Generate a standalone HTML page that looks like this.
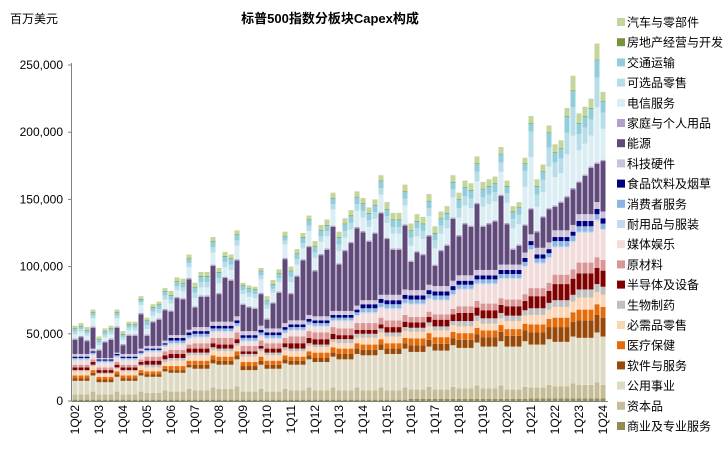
<!DOCTYPE html>
<html><head><meta charset="utf-8">
<style>
html,body{margin:0;padding:0;background:#fff;}
body{width:726px;height:458px;overflow:hidden;font-family:"Liberation Sans","Noto Sans CJK SC",sans-serif;}
svg text{font-family:"Liberation Sans","Noto Sans CJK SC",sans-serif;}
</style></head>
<body>
<svg id="chart" width="726" height="458" viewBox="0 0 726 458" xmlns="http://www.w3.org/2000/svg">
<text x="10" y="23" font-size="12" fill="#000">百万美元</text>
<text x="330" y="23" font-size="13" font-weight="bold" text-anchor="middle" fill="#000">标普500指数分板块Capex构成</text>
<g id="bars"></g>
<g id="axes"></g>
<g id="legend"></g>
</svg>
<script>
const quarterLabels = ["1Q02","1Q03","1Q04","1Q05","1Q06","1Q07","1Q08","1Q09","1Q10","1Q11","1Q12","1Q13","1Q14","1Q15","1Q16","1Q17","1Q18","1Q19","1Q20","1Q21","1Q22","1Q23","1Q24"];
const yTicks = [0,50000,100000,150000,200000,250000];
const yTickLabels = ["0","50,000","100,000","150,000","200,000","250,000"];
const seriesNames = ["商业及专业服务","资本品","公用事业","软件与服务","医疗保健","必需品零售","生物制药","半导体及设备","原材料","媒体娱乐","耐用品与服装","消费者服务","食品饮料及烟草","科技硬件","能源","家庭与个人用品","电信服务","可选品零售","交通运输","房地产经营与开发","汽车与零部件"];
const seriesColors = ["#948A54","#C4BD97","#DDD9C3","#984807","#E46C0A","#FCD5B5","#BFBFBF","#800000","#D99694","#F2DCDB","#C6D9F1","#8DB4E2","#000080","#CCC1DA","#604A7B","#B3A2C7","#DBEEF4","#B7DEE8","#92CDDC","#77933C","#C3D69B"];
// values in thousand million USD (k = 1000 百万美元), quarterly 1Q02..1Q24
const com = [1,1,1,1,1,1,1,1,1,1,1,1,1,1,1,1,1,1,1,1,1,1,1,1,1,1,1,1,1,1,1,1,1,1,1,1,1,1,1,1,1,1,1,1,1,1,1,1,1,1,1,1,1,1,1,1,1.5,1.5,1.5,1.5,1.5,1.5,1.5,1.5,1.5,1.5,1.5,1.5,1.5,1.5,1.5,1.5,1.5,1.5,1.5,1.5,2,2,2,2,2,2,2,2,2,2,2,2,2];
const cap = [4,4,4,6,4,4,4,6,4,4,4,6,5,5,5,7,6,6,6,8,7,7,7,9,8,8,8,10,6,6,6,8,6,6,6,8,7,7,7,9,7,7,7,9,7,7,7,9,7,7,7,9,7,7,7,9,7,7,7,9,7,7,7,9,8,8,8,10,8,8,8,10,7,7,7,9,8,8,8,10,9,9,9,11,10,10,10,12,10];
const util = [10,10,10,12,9,9,9,11,10,10,10,12,12,12,12,14,14,14,14,16,16,16,16,18,18,18,18,20,16,16,16,18,17,17,17,19,19,19,19,21,21,21,21,23,23,23,23,25,26,26,26,28,27,27,27,29,28,28,28,30,29,29,29,31,30,30,30,32,31,31,31,33,32,32,32,34,32,32,32,34,33,33,33,35,35,35,35,37,36];
const sw = [2,2,2,2,2,2,2,2,2,2,2,2,2,2,2,2,2,2,2,2,3,3,3,3,3,3,3,3,3,3,3,3,3,3,3,3,3,3,3,3,3,3,3,3,4,4,4,4,4,4,4,4,4,4,4,4,5,5,5,5,5,5,5,5,6,6,6,6,7,7,7,7,8,8,8,8,9,9,9,9,11,11,11,11,13,13,13,13,14];
const hc = [2,2,2,2,2,2,2,2,2,2,2,2,2,2,2,2,3,3,3,3,3,3,3,3,3,3,3,3,3,3,3,3,3,3,3,3,3,3,3,3,4,4,4,4,4,4,4,4,4,4,4,4,4,4,4,4,5,5,5,5,5,5,5,5,5,5,5,5,5,5,5,5,5,5,5,5,6,6,6,6,7,7,7,7,8,8,8,8,8];
const stap = [3,3,3,3,2,2,2,2,3,3,3,3,3,3,3,3,4,4,4,4,4,4,4,4,4,4,4,4,4,4,4,4,4,4,4,4,4,4,4,4,4,4,4,4,4,4,4,4,5,5,5,5,5,5,5,5,5,5,5,5,5,5,5,5,5,5,5,5,5,5,5,5,6,6,6,6,7,7,7,7,8,8,8,8,9,9,9,9,9];
const bio = [1,1,1,1,1,1,1,1,1,1,1,1,2,2,2,2,2,2,2,2,2,2,2,2,2,2,2,2,2,2,2,2,2,2,2,2,2,2,2,2,2,2,2,2,3,3,3,3,3,3,3,3,3,3,3,3,3,3,3,3,3,3,3,3,4,4,4,4,4,4,4,4,4,4,4,4,5,5,5,5,5,5,5,5,6,6,6,6,6];
const semi = [2,2,2,2,2,2,2,2,2,2,2,2,3,3,3,3,3,3,3,3,3,3,3,3,3,3,3,3,2,2,2,2,3,3,3,3,4,4,4,4,4,4,4,4,3,3,3,3,3,3,3,3,4,4,4,4,4,4,4,4,5,5,5,5,6,6,6,6,6,6,6,6,7,7,7,7,9,9,9,9,12,12,12,12,12,12,12,12,12];
const mat = [2,2,2,2,2,2,2,2,2,2,2,2,3,3,3,3,3,3,3,3,4,4,4,4,5,5,5,5,4,4,4,4,4,4,4,4,5,5,5,5,5,5,5,5,5,5,5,5,5,5,5,5,5,5,5,5,4,4,4,4,4,4,4,4,5,5,5,5,5,5,5,5,5,5,5,5,6,6,6,6,7,7,7,7,8,8,8,8,8];
const media = [3,3,3,3,3,3,3,3,3,3,3,3,3,3,3,3,4,4,4,4,4,4,4,4,4,4,4,4,3,3,3,3,3,3,3,3,4,4,4,4,4,4,4,4,5,5,5,5,7,7,7,7,8,8,8,8,9,9,9,9,10,10,10,10,12,12,12,12,14,14,14,14,15,15,15,20,28,18,18,18,20,20,20,20,22,22,22,27,22];
const dur = [1,1,1,1,1,1,1,1,1,1,1,1,1,1,1,1,1,1,1,1,1,1,1,1,1,1,1,1,1,1,1,1,1,1,1,1,1,1,1,1,1,1,1,1,1,1,1,1,1,1,1,1,1,1,1,1,1,1,1,1,1,1,1,1,1,1,1,1,1,1,1,1,1,1,1,1,1,1,1,1,1,1,1,1,1,1,1,1,1];
const csvc = [1,1,1,1,1,1,1,1,1,1,1,1,1,1,1,1,2,2,2,2,2,2,2,2,2,2,2,2,2,2,2,2,2,2,2,2,2,2,2,2,2,2,2,2,2,2,2,2,3,3,3,3,3,3,3,3,3,3,3,3,3,3,3,3,3,3,3,3,3,3,3,3,3,3,3,3,3,3,3,3,4,4,4,4,4,4,4,4,4];
const food = [1,1,1,1,1,1,1,1,1,1,1,1,1,1,1,1,2,2,2,2,2,2,2,2,2,2,2,2,2,2,2,2,2,2,2,2,2,2,2,2,2,2,2,2,2,2,2,2,3,3,3,3,3,3,3,3,3,3,3,3,3,3,3,3,3,3,3,3,3,3,3,3,3,3,3,3,3,3,3,3,3,3,3,3,4,4,4,4,4];
const hw = [2,2,2,2,1,1,1,1,2,2,2,2,2,2,2,2,2,2,2,2,3,3,3,3,3,3,3,3,3,3,3,3,3,3,3,3,3,3,3,3,3,3,3,3,3,3,3,3,3,3,3,3,4,4,4,4,4,4,4,4,4,4,4,4,4,4,4,4,4,4,4,4,4,4,4,4,5,5,5,5,5,5,5,5,5,5,5,5,5];
const energy = [10.5,12.5,9.5,15.5,5.5,11.5,13.5,18.5,6.5,13.5,13.5,25.5,7.5,17.5,19.5,22.5,17.5,27.5,26.5,37.5,14.5,22.5,22.5,41.5,20.5,32.5,30.5,41.5,19.5,17.5,16.5,23.5,6.5,18.5,26.5,47.5,19.5,32.5,44.5,50.5,33.5,45.5,49.5,62.5,34.5,44.5,50.5,57.5,50.5,43.5,49.5,60.5,41.5,33.5,33.5,47.5,21,28,26,36,15,26,30,46,29,38,36,49,32,34,36,51,30,11,14,20,18.5,11.5,22.5,24.5,17.5,20.5,24.5,26.5,23.5,28.5,34.5,28.5,37.5];
const hpp = [1,1,1,1,1,1,1,1,1,1,1,1,1,1,1,1,1,1,1,1,1,1,1,1,1,1,1,1,1,1,1,1,1,1,1,1,1,1,1,1,1,1,1,1,1,1,1,1,1,1,1,1,1,1,1,1,1,1,1,1,1,1,1,1,1,1,1,1,1,1,1,1,1,1,1,1,1,1,1,1,1,1,1,1,1,1,1,1,1];
const tel = [3,3,3,6,3,3,3,6,3,3,3,6,4,4,4,7,5,5,5,8,6,6,6,9,7,7,7,10,7,7,7,10,7,7,7,10,8,8,8,11,9,9,9,12,9,9,9,12,10,10,10,13,11,11,11,14,11,11,11,14,12,12,12,15,13,13,13,16,14,14,14,17,15,15,15,28,38,18,18,31,21,21,31,39,23,23,23,41,23];
const dret = [2,2,2,2,2,2,2,2,2,2,2,2,3,3,3,3,3,3,3,3,4,4,4,4,4,4,4,4,3,3,3,3,3,3,3,3,4,4,4,4,4,4,4,4,5,5,5,5,5,5,5,5,5,5,5,5,6,6,6,6,6,6,6,6,7,7,7,7,7,7,7,7,7,7,7,12,19,9,9,14,11,11,16,21,12,12,12,22,12];
const trans = [2,2,2,2,2,2,2,2,2,2,2,2,3,3,3,3,3,3,3,3,4,4,4,4,4,4,4,4,3,3,3,3,3,3,3,3,4,4,4,4,4,4,4,4,5,5,5,5,5,5,5,5,5,5,5,5,5,5,5,5,5,5,5,5,6,6,6,6,6,6,6,6,5,5,5,5,6,6,6,11,7,7,12,12,8,8,8,13,8];
const re = [0.5,0.5,0.5,0.5,0.5,0.5,0.5,0.5,0.5,0.5,0.5,0.5,0.5,0.5,0.5,0.5,0.5,0.5,0.5,0.5,0.5,0.5,0.5,0.5,0.5,0.5,0.5,0.5,0.5,0.5,0.5,0.5,0.5,0.5,0.5,0.5,0.5,0.5,0.5,0.5,0.5,0.5,0.5,0.5,0.5,0.5,0.5,0.5,0.5,0.5,0.5,0.5,0.5,0.5,0.5,0.5,0.5,0.5,0.5,0.5,0.5,0.5,0.5,0.5,0.5,0.5,0.5,0.5,0.5,0.5,0.5,0.5,0.5,0.5,0.5,0.5,0.5,0.5,0.5,0.5,0.5,0.5,0.5,0.5,0.5,0.5,0.5,0.5,0.5];
const auto = [2,2,2,2,2,2,2,2,2,2,2,2,2,2,2,2,3,3,3,3,3,3,3,3,3,3,3,3,2,2,2,2,3,3,3,3,3,3,3,3,4,4,4,4,4,4,4,4,4,4,4,4,5,5,5,5,5,5,5,5,5,5,5,5,5,5,5,5,5,5,5,5,4,4,4,4,5,5,5,5,6,6,6,11,7,7,7,12,7];
const seriesData = [com,cap,util,sw,hc,stap,bio,semi,mat,media,dur,csvc,food,hw,energy,hpp,tel,dret,trans,re,auto];

const NS = "http://www.w3.org/2000/svg";
const X0 = 75, STEP = 6, BARW = 5, Y0 = 401, PXPERK = 1.344;
function xScale(i){ return X0 + i*STEP; }
function yScale(v){ return Y0 - (v/1000)*PXPERK; }
function yK(vk){ return Y0 - vk*PXPERK; }

const bars = document.getElementById('bars');
const nQ = energy.length;
for (let i=0;i<nQ;i++){
  let acc = 0;
  for (let s=0;s<seriesData.length;s++){
    const v = seriesData[s][i];
    const r = document.createElementNS(NS,'rect');
    r.setAttribute('x', (xScale(i)-BARW/2).toFixed(2));
    r.setAttribute('y', yK(acc+v).toFixed(2));
    r.setAttribute('width', BARW);
    r.setAttribute('height', (v*PXPERK).toFixed(2));
    r.setAttribute('fill', seriesColors[s]);
    
    
    bars.appendChild(r);
    acc += v;
  }
}

const axes = document.getElementById('axes');
const yl = document.createElementNS(NS,'line');
yl.setAttribute('x1',71.5);yl.setAttribute('x2',71.5);yl.setAttribute('y1',yScale(250000)-2);yl.setAttribute('y2',Y0);
yl.setAttribute('stroke','#808080');yl.setAttribute('stroke-width','1');


axes.appendChild(yl);
const xl = document.createElementNS(NS,'line');
xl.setAttribute('x1',71.5);xl.setAttribute('x2',608);xl.setAttribute('y1',Y0+0.5);xl.setAttribute('y2',Y0+0.5);
xl.setAttribute('stroke','#808080');xl.setAttribute('stroke-width','1');


axes.appendChild(xl);
for (let k=0;k<yTicks.length;k++){
  const y = yScale(yTicks[k]);
  const t = document.createElementNS(NS,'line');
  t.setAttribute('x1',68);t.setAttribute('x2',71.5);t.setAttribute('y1',y);t.setAttribute('y2',y);
  t.setAttribute('stroke','#808080');
  
  
  axes.appendChild(t);
  const tx = document.createElementNS(NS,'text');
  tx.setAttribute('x',63);tx.setAttribute('y',y+4);tx.setAttribute('text-anchor','end');
  tx.setAttribute('font-size','12');tx.setAttribute('fill','#000');
  tx.textContent = yTickLabels[k];
  
  
  axes.appendChild(tx);
}
for (let k=0;k<quarterLabels.length;k++){
  const x = xScale(k*4);
  const tx = document.createElementNS(NS,'text');
  tx.setAttribute('transform','translate('+(x+4)+','+(Y0+4)+') rotate(-90)');
  tx.setAttribute('text-anchor','end');
  tx.setAttribute('font-size','12');tx.setAttribute('fill','#000');
  tx.textContent = quarterLabels[k];
  
  
  axes.appendChild(tx);
}

const legend = document.getElementById('legend');
for (let k=0;k<seriesNames.length;k++){
  const s = seriesNames.length-1-k;
  const y = 22 + k*20.2;
  const g = document.createElementNS(NS,'g');
  
  
  const sq = document.createElementNS(NS,'rect');
  sq.setAttribute('x',617);sq.setAttribute('y',y-4);sq.setAttribute('width',8);sq.setAttribute('height',8);
  sq.setAttribute('fill',seriesColors[s]);
  
  
  g.appendChild(sq);
  const tx = document.createElementNS(NS,'text');
  tx.setAttribute('x',627);tx.setAttribute('y',y+4.5);tx.setAttribute('font-size','12');tx.setAttribute('fill','#000');
  tx.textContent = seriesNames[s];
  
  
  g.appendChild(tx);
  legend.appendChild(g);
}
</script>
</body></html>
